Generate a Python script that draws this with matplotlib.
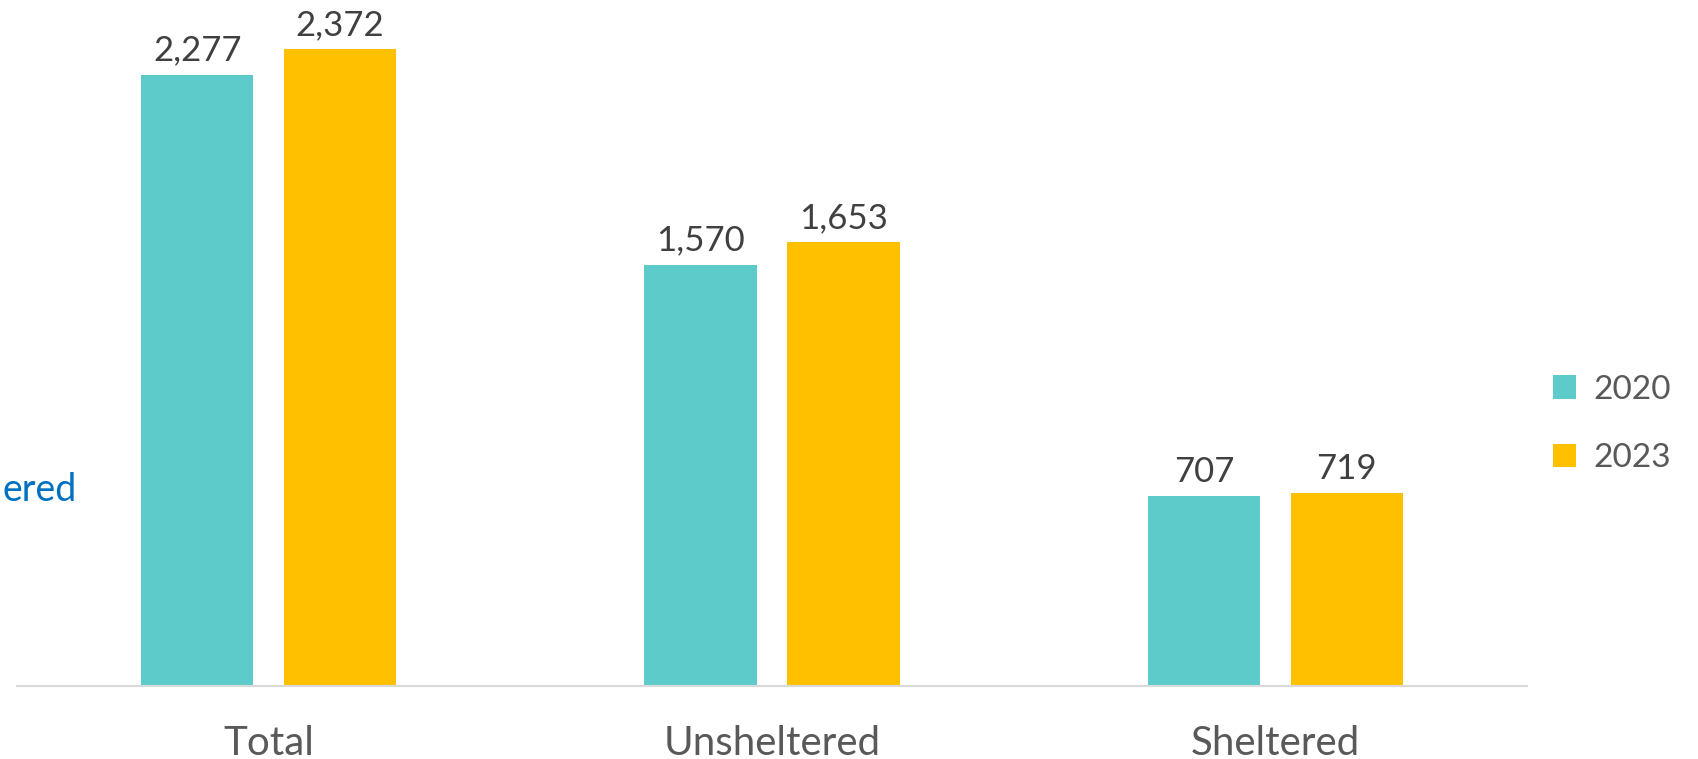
import matplotlib.pyplot as plt
import numpy as np

# Data
categories = ['Total', 'Unsheltered', 'Sheltered']
years = ['2020', '2023']
values_2020 = [2277, 1570, 707]
values_2023 = [2372, 1653, 719]

colors = {'2020': '#5ECBCB', '2023': '#FFC000'}
plt.rcParams['font.family'] = ['Lato', 'DejaVu Sans']

fig = plt.figure(figsize=(16.98, 7.59), dpi=100)
ax = fig.add_axes([0.01, 0.0962, 0.8893, 0.884])

x = np.arange(len(categories))
width = 0.223
offset = 0.142

bars1 = ax.bar(x - offset, values_2020, width, color=colors['2020'], label='2020')
bars2 = ax.bar(x + offset, values_2023, width, color=colors['2023'], label='2023')

for bars in (bars1, bars2):
    for b in bars:
        ax.annotate(f'{int(b.get_height()):,}', (b.get_x() + b.get_width() / 2, b.get_height()),
                    xytext=(0, 6), textcoords='offset points', ha='center', va='bottom',
                    fontsize=25, color='#404040')

ax.set_xlim(-0.5, 2.5)
ax.set_ylim(0, 2500)
ax.set_yticks([])
ax.set_xticks(x)
ax.set_xticklabels(categories, fontsize=29, color='#595959')
ax.tick_params(axis='x', length=0, pad=28)
for s in ['top', 'right', 'left']:
    ax.spines[s].set_visible(False)
ax.spines['bottom'].set_color('#D9D9D9')
ax.spines['bottom'].set_linewidth(1.5)

# fragment of a label at the left edge
fig.text(2 / 1698, 1 - 490 / 759, 'ered', ha='left', va='center',
         fontsize=27, color='#0070C0')

fig.legend(handles=[bars1, bars2], labels=years, loc='center left',
           bbox_to_anchor=(1523 / 1698, 1 - 424 / 759), frameon=False,
           fontsize=24, labelcolor='#595959', handlelength=0.7, handleheight=0.7,
           handletextpad=0.5, labelspacing=1.15)

fig.savefig('out.png', dpi=100)
